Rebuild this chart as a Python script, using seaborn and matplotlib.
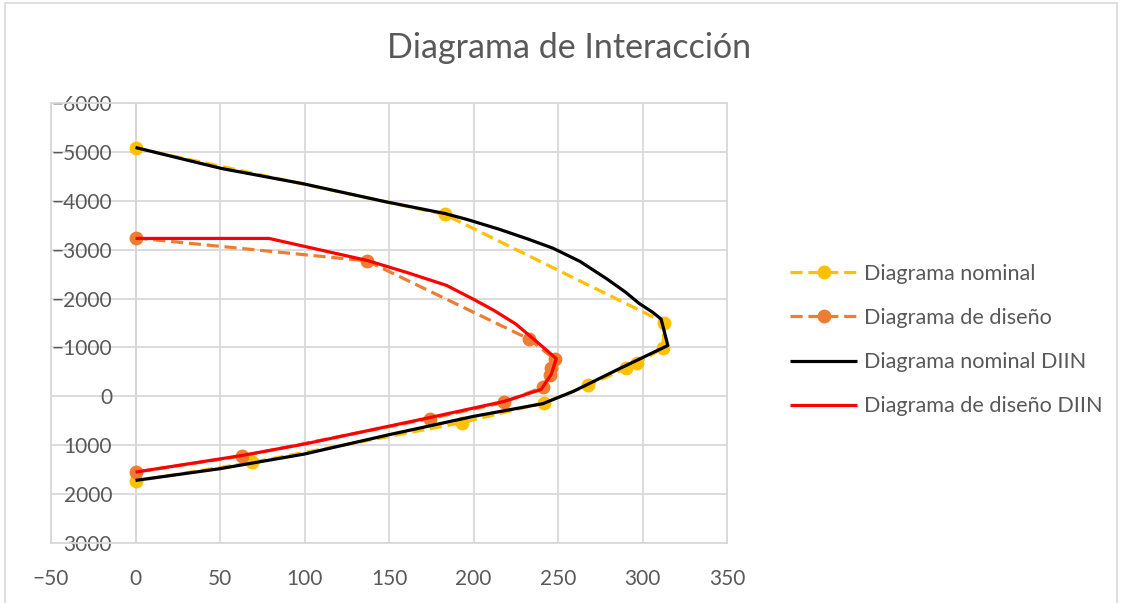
import matplotlib

matplotlib.use("Agg")

import matplotlib.pyplot as plt
import pandas as pd
import seaborn as sns
from matplotlib.patches import Rectangle


# Diagrama nominal (puntos calculados)
nominal_x = [0, 183, 313, 312, 297, 290, 268, 242, 193, 69, 0]
nominal_y = [-5080, -3720, -1510, -980, -685, -570, -230, 130, 540, 1350, 1730]

# Diagrama de diseño (puntos calculados)
diseno_x = [0, 137, 233, 248, 246, 245, 241, 218, 174, 63, 0]
diseno_y = [-3240, -2770, -1170, -760, -580, -445, -190, 125, 455, 1220, 1550]

# Diagrama nominal DIIN
dn_x = [0, 26, 51, 99, 148, 183, 196, 215, 232, 247, 263, 279, 290, 298, 306, 311,
        315, 286, 259, 241, 200, 150, 100, 50, 0]
dn_y = [-5090, -4870, -4660, -4350, -3980, -3740, -3620, -3420, -3220, -3030, -2760,
        -2400, -2130, -1900, -1720, -1580, -1040, -560, -100, 150, 410, 785, 1180,
        1480, 1720]

# Diagrama de diseño DIIN
dd_x = [0, 79, 137, 160, 184, 200, 212, 225, 237, 249, 246, 240, 218, 174, 100, 63, 0]
dd_y = [-3230, -3230, -2780, -2540, -2270, -1985, -1760, -1480, -1130, -770, -450,
        -140, 105, 435, 975, 1210, 1550]

X_TICKS = [-50, 0, 50, 100, 150, 200, 250, 300, 350]
Y_TICKS = [-6000, -5000, -4000, -3000, -2000, -1000, 0, 1000, 2000, 3000]

TEXT_COLOR = "#595959"
GRID_COLOR = "#d9d9d9"

sns.set_theme(style="white")
plt.rcParams["font.family"] = ["Lato", "DejaVu Sans"]

fig = plt.figure(figsize=(11.22, 6.03), dpi=100)
ax = fig.add_axes([51 / 1122, 1 - 543 / 603, (727 - 51) / 1122, (543 - 103) / 603])

series = [
    (nominal_x, nominal_y, "Diagrama nominal", "#FFC000", "--", "o"),
    (diseno_x, diseno_y, "Diagrama de diseño", "#ED7D31", "--", "o"),
    (dn_x, dn_y, "Diagrama nominal DIIN", "#000000", "-", None),
    (dd_x, dd_y, "Diagrama de diseño DIIN", "#FF0000", "-", None),
]

for xs, ys, name, color, ls, marker in series:
    df = pd.DataFrame({"x": xs, "y": ys})
    line_ax = sns.lineplot(
        data=df, x="x", y="y", ax=ax, sort=False, estimator=None,
        color=color, linewidth=2.3, label=name,
        marker=marker, markersize=10, markeredgewidth=0,
    )
    line = line_ax.get_lines()[-1]
    if ls == "--":
        line.set_dashes((3.8, 1.8))
    line.set_solid_capstyle("butt")

ax.set_xlim(-50, 350)
ax.set_ylim(3000, -6000)
ax.set_xticks(X_TICKS)
ax.set_yticks(Y_TICKS)
ax.set_xlabel("")
ax.set_ylabel("")
ax.grid(True, color=GRID_COLOR, linewidth=1.3)
ax.set_axisbelow(True)
ax.axvline(0, color="#bfbfbf", linewidth=1.3, zorder=0.5)
for sp in ax.spines.values():
    sp.set_color(GRID_COLOR)
    sp.set_linewidth(1.3)

ax.tick_params(axis="both", length=0, labelsize=15, labelcolor=TEXT_COLOR)
ax.tick_params(axis="y", pad=-44)
for lbl in ax.get_yticklabels():
    lbl.set_horizontalalignment("right")
ax.tick_params(axis="x", pad=19)

fig.text(569.5 / 1122, 1 - 48 / 603, "Diagrama de Interacción", ha="center", va="center",
         fontsize=24.5, color=TEXT_COLOR)

leg = ax.legend(
    loc="center left", bbox_to_anchor=(790 / 1122, 1 - 340 / 603),
    bbox_transform=fig.transFigure, frameon=False, fontsize=15.6,
    handlelength=3.1, labelspacing=1.12, handletextpad=0.32, borderpad=0,
    borderaxespad=0, labelcolor=TEXT_COLOR,
)
for h in leg.get_lines():
    if h.get_linestyle() == "--":
        h.set_dashes((3.8, 1.8))

fig.patches.append(Rectangle((5 / 1122, -0.01), 1112 / 1122, 1 - 3 / 603 + 0.01,
                             transform=fig.transFigure, fill=False,
                             edgecolor=GRID_COLOR, linewidth=1.2))

fig.savefig("out.png", dpi=100)
